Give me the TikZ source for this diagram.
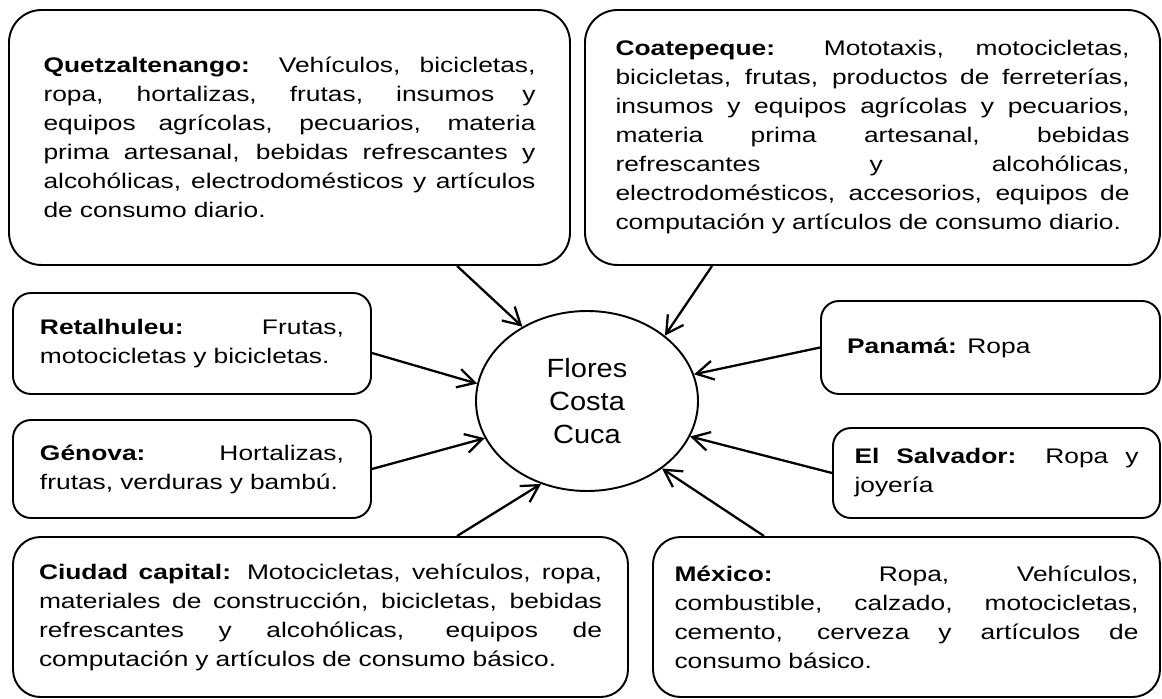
\documentclass[tikz,border=0pt]{standalone}
\usepackage{fontspec}
\setmainfont{Liberation Sans}[FakeStretch=1.25]
\newfontfamily\centrofont{Liberation Sans}[FakeStretch=1.1]
\usetikzlibrary{shapes.geometric,arrows.meta,calc}
% one justified line of a box
\newcommand{\jl}[1]{\makebox[\hsize][s]{\spaceskip=0pt\xspaceskip=0pt\relax #1}\\}

\begin{document}
\begin{tikzpicture}[
    >={Straight Barb[length=3.4mm,width=3.8mm]},
    caja/.style={draw, line width=1.1pt, rounded corners=3.6mm, inner sep=0pt,
        align=left, font=\fontsize{12}{16.5}\selectfont},
    flecha/.style={->, line width=1.3pt}
]
    \useasboundingbox (0,0) rectangle (23.24,13.96);

    % Top boxes
    \node[caja, rounded corners=6.5mm, minimum width=11.22cm, minimum height=5.1cm, text width=9.84cm] (quetz) at (5.79,11.21) {%
        \jl{\textbf{Quetzaltenango:} Vehículos, bicicletas,}
        \jl{ropa, hortalizas, frutas, insumos y}
        \jl{equipos agrícolas, pecuarios, materia}
        \jl{prima artesanal, bebidas refrescantes y}
        \jl{alcohólicas, electrodomésticos y artículos}
        de consumo diario.};
    \node[caja, rounded corners=6.5mm, minimum width=11.5cm, minimum height=5.1cm, text width=10.28cm] (coate) at (17.45,11.21) {%
        \jl{\textbf{Coatepeque:} Mototaxis, motocicletas,}
        \jl{bicicletas, frutas, productos de ferreterías,}
        \jl{insumos y equipos agrícolas y pecuarios,}
        \jl{materia prima artesanal, bebidas}
        \jl{refrescantes y alcohólicas,}
        \jl{electrodomésticos, accesorios, equipos de}
        computación y artículos de consumo diario.};

    % Left boxes
    \node[caja, minimum width=7.16cm, minimum height=2.02cm, text width=6.08cm] (retal) at (3.84,7.09) {%
        \jl{\textbf{Retalhuleu:} Frutas,}
        motocicletas y bicicletas.};
    \node[caja, minimum width=7.16cm, minimum height=1.96cm, text width=6.08cm] (genova) at (3.84,4.58) {%
        \jl{\textbf{Génova:} Hortalizas,}
        frutas, verduras y bambú.};

    % Right boxes
    \node[caja, minimum width=6.78cm, minimum height=1.86cm, text width=5.74cm] (panama) at (19.81,7.01) {%
        \textbf{Panamá:} Ropa};
    \node[caja, minimum width=6.54cm, minimum height=1.8cm, text width=5.68cm] (salvador) at (19.93,4.5) {%
        \jl{\textbf{El Salvador:} Ropa y}
        joyería};

    % Bottom boxes
    \node[caja, rounded corners=5.5mm, minimum width=12.3cm, minimum height=3.2cm, text width=11.26cm] (capital) at (6.41,1.62) {%
        \jl{\textbf{Ciudad capital:} Motocicletas, vehículos, ropa,}
        \jl{materiales de construcción, bicicletas, bebidas}
        \jl{refrescantes y alcohólicas, equipos de}
        computación y artículos de consumo básico.};
    \node[caja, rounded corners=5.5mm, minimum width=10.14cm, minimum height=3.2cm, text width=9.28cm] (mexico) at (18.13,1.62) {%
        \jl{\textbf{México:} Ropa, Vehículos,}
        \jl{combustible, calzado, motocicletas,}
        \jl{cemento, cerveza y artículos de}
        consumo básico.};

    % Centre
    \node[draw, ellipse, line width=1.1pt, minimum width=4.44cm, minimum height=3.6cm, inner sep=0pt,
        align=center, font=\centrofont\fontsize{15}{18.8}\selectfont] (flores) at (11.74,5.94) {Flores\\Costa\\Cuca};

    % Arrows
    \draw[flecha] ($(quetz.south west)+(8.98,0)$) -- (flores.131);
    \draw[flecha] ($(coate.south west)+(2.56,0)$) -- (flores.40);
    \draw[flecha] ([yshift=-1.9mm]retal.east) -- (flores.171);
    \draw[flecha] (panama.west) -- (flores.14);
    \draw[flecha] (genova.east) -- (flores.200);
    \draw[flecha] (salvador.west) -- (flores.341);
    \draw[flecha] ($(capital.north west)+(8.9,0)$) -- (flores.241);
    \draw[flecha] ($(mexico.north west)+(2.24,0)$) -- (flores.318);
\end{tikzpicture}
\end{document}
